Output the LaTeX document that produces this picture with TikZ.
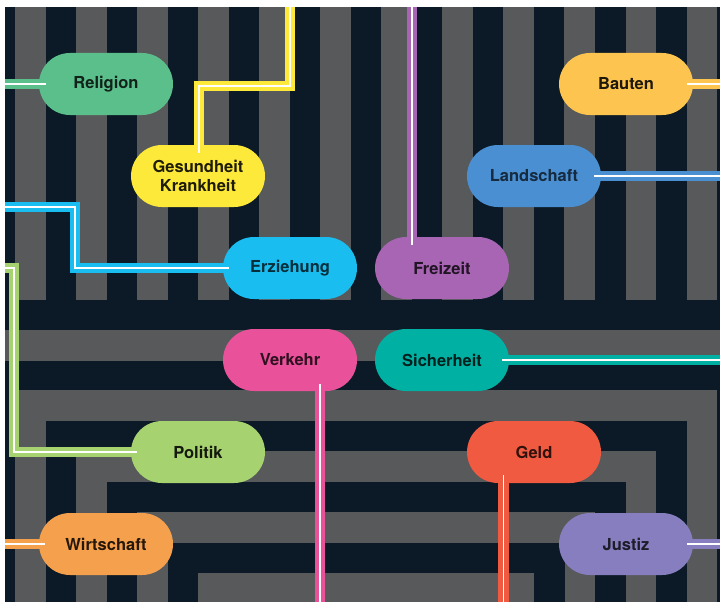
\documentclass[tikz,border=0pt]{standalone}
\usepackage{fontspec}
\setmainfont{TeX Gyre Heros}
\usetikzlibrary{calc}
\definecolor{bgdark}{RGB}{11,26,38}
\definecolor{bggray}{RGB}{88,89,91}
\definecolor{creli}{RGB}{91,191,139}
\definecolor{cges}{RGB}{253,233,58}
\definecolor{cbau}{RGB}{253,197,80}
\definecolor{clan}{RGB}{74,143,209}
\definecolor{cerz}{RGB}{26,189,240}
\definecolor{cfre}{RGB}{167,101,179}
\definecolor{cver}{RGB}{233,81,154}
\definecolor{csic}{RGB}{0,176,162}
\definecolor{cpol}{RGB}{166,210,111}
\definecolor{cgel}{RGB}{240,90,64}
\definecolor{cwir}{RGB}{245,160,76}
\definecolor{cjus}{RGB}{134,126,190}
\begin{document}
\begin{tikzpicture}[x=1pt,y=-1pt,
  pill/.style={draw=none, rounded corners=31pt, minimum width=134pt, minimum height=62pt,
    inner sep=0pt, align=center, font=\fontsize{16.5}{18.5}\selectfont\bfseries},
  link/.style={line width=4.25pt, double=white, double distance=1.8pt}]
\useasboundingbox (0,0) rectangle (720,602);
\fill[white] (0,0) rectangle (720,602);
\fill[bgdark] (5,7.5) rectangle (720,602);
% vertical stripes, upper half
\foreach \k in {0,...,11} \fill[bggray] ({15+61.05*\k},7.5) rectangle ({45.6+61.05*\k},299.5);
% horizontal band
\fill[bggray] (5,330) rectangle (720,360.5);
% nested frames, lower half
\foreach \j in {0,...,6}{
  \ifodd\j\relax \def\fc{bgdark}\else\def\fc{bggray}\fi
  \fill[\fc] ({15+30.52*\j},{390+30.5*\j}) rectangle ({717.1-30.52*\j},602);
}
% nodes
\node[pill, fill=creli, text=creli!18!black] (reli) at (106,84) {Religion};
\node[pill, fill=cges, text=cges!12!black] (ges) at (198,176) {Gesundheit\\Krankheit};
\node[pill, fill=cbau, text=cbau!12!black] (bau) at (626,84) {Bauten};
\node[pill, fill=clan, text=clan!30!black] (lan) at (534,176) {Landschaft};
\node[pill, fill=cerz, text=cerz!25!black] (erz) at (290,268) {Erziehung};
\node[pill, fill=cfre, text=cfre!20!black] (fre) at (442,268) {Freizeit};
\node[pill, fill=cver, text=cver!20!black] (ver) at (290,360) {Verkehr};
\node[pill, fill=csic, text=csic!18!black] (sic) at (442,360) {Sicherheit};
\node[pill, fill=cpol, text=cpol!12!black] (pol) at (198,452) {Politik};
\node[pill, fill=cgel, text=cgel!20!black] (gel) at (534,452) {Geld};
\node[pill, fill=cwir, text=cwir!15!black] (wir) at (106,544) {Wirtschaft};
\node[pill, fill=cjus, text=cjus!22!black] (jus) at (626,544) {Justiz};
% free ends
\coordinate (reliL) at (5,84);
\coordinate (gesT) at (290,7.5);
\coordinate (bauR) at (720,84);
\coordinate (lanR) at (720,176);
\coordinate (erzL) at (5,207);
\coordinate (freT) at (412,7.5);
\coordinate (verB) at (320,602);
\coordinate (sicR) at (720,360);
\coordinate (polL) at (5,268);
\coordinate (gelB) at (503.5,602);
\coordinate (wirL) at (5,544);
\coordinate (jusR) at (720,544);
% connectors
\draw[link, creli] (reliL) -- ($(reli.west)+(7,0)$);
\draw[link, cges] ($(ges.north)+(1,8)$) -- ++(0,-67) -| (gesT);
\draw[link, cbau] ($(bau.east)+(-6,0)$) -- (bauR);
\draw[link, clan] ($(lan.east)+(-7,0)$) -- (lanR);
\draw[link, cerz] (erzL) -- ++(70,0) |- ($(erz.west)+(6,0)$);
\draw[link, cfre] (freT) -- ($(freT |- fre.north)+(0,8)$);
\draw[link, cver] ($(verB |- ver.south)+(0,-7)$) -- (verB);
\draw[link, csic] ($(sic.east)+(-7,0)$) -- (sicR);
\draw[link, cpol] (polL) -- ++(9,0) |- ($(pol.west)+(6,0)$);
\draw[link, cgel] ($(gelB |- gel.south)+(0,-8)$) -- (gelB);
\draw[link, cwir] (wirL) -- ($(wir.west)+(6,0)$);
\draw[link, cjus] ($(jus.east)+(-6,0)$) -- (jusR);
\end{tikzpicture}
\end{document}
